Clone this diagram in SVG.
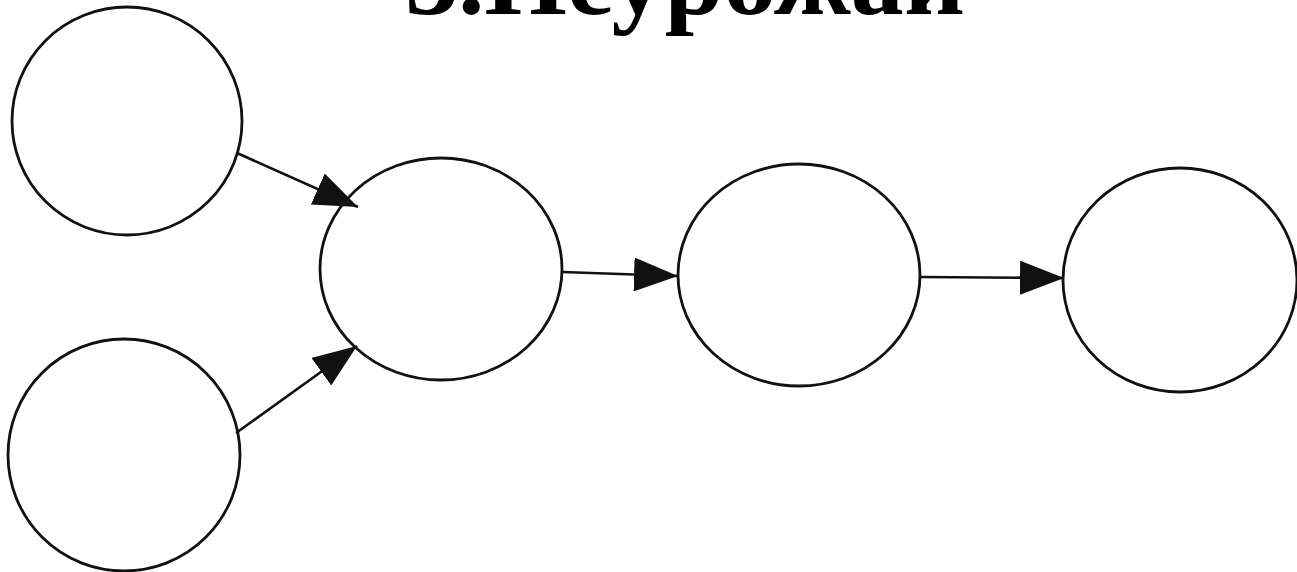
<svg xmlns="http://www.w3.org/2000/svg" width="1297" height="572" viewBox="0 0 1297 572">
<style>
.node{fill:#fff;stroke:#111;stroke-width:2.8}
.edge{stroke:#111;stroke-width:2.6;fill:none}
.title{font-family:"Liberation Serif",serif;font-weight:bold;font-size:104px;fill:#000}
</style>
<defs>
<marker id="ah" markerUnits="userSpaceOnUse" markerWidth="46" markerHeight="34" refX="44" refY="17" orient="auto">
<path d="M0,0 L44,17 L0,34 Z" fill="#111"/>
</marker>
</defs>
<rect width="1297" height="572" fill="#fff"/>
<text class="title" x="405" y="14" textLength="560" lengthAdjust="spacingAndGlyphs">3.Неурожай</text>
<g id="n1"><ellipse class="node" cx="127" cy="121" rx="115" ry="114"/></g>
<g id="n2"><ellipse class="node" cx="124" cy="455" rx="116" ry="116"/></g>
<g id="n3"><ellipse class="node" cx="441" cy="269" rx="121" ry="111"/></g>
<g id="n4"><ellipse class="node" cx="799" cy="275" rx="121" ry="111"/></g>
<g id="n5"><ellipse class="node" cx="1180" cy="280" rx="117" ry="112"/></g>
<g id="edges">
<line class="edge" x1="237" y1="153" x2="358" y2="207" marker-end="url(#ah)"/>
<line class="edge" x1="236" y1="433" x2="357" y2="346" marker-end="url(#ah)"/>
<line class="edge" x1="562" y1="272" x2="678" y2="276" marker-end="url(#ah)"/>
<line class="edge" x1="921" y1="277" x2="1064" y2="278" marker-end="url(#ah)"/>
</g>
</svg>
